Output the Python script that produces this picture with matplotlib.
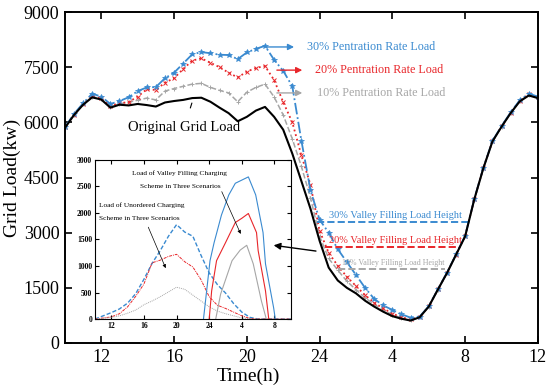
import numpy as np
import matplotlib
matplotlib.use('Agg')
import matplotlib.pyplot as plt

plt.rcParams['font.family'] = ['Liberation Serif', 'DejaVu Serif']

###### Data ######
hours = np.arange(10, 36.01, 0.5)

base_load = [5850, 6200, 6480, 6680, 6620, 6400, 6480, 6460, 6500, 6470,
             6430, 6540, 6580, 6610, 6660, 6670, 6560, 6400, 6250, 6030,
             6150, 6320, 6420, 6150, 5800, 5150, 4400, 3650, 2780, 2050,
             1700, 1500, 1350, 1150, 990, 850, 730, 660, 610, 700,
             990, 1450, 1900, 2400, 2900, 3900, 4750, 5480, 5880, 6250,
             6570, 6730, 6660]

load_30 = [5870, 6230, 6520, 6780, 6700, 6500, 6580, 6680, 6850, 6950,
           6960, 7200, 7350, 7600, 7850, 7910, 7880, 7840, 7830, 7720,
           7900, 8000, 8080, 7700, 7400, 6980, 5500, 4150, 3350, 3000,
           2550, 2200, 1850, 1500, 1200, 1020, 900, 780, 690, 720,
           1000, 1460, 1910, 2410, 2910, 3910, 4760, 5490, 5900, 6270,
           6600, 6780, 6700]

load_20 = [5860, 6210, 6500, 6720, 6650, 6450, 6520, 6550, 6700, 6900,
           6880, 7080, 7200, 7450, 7680, 7740, 7620, 7500, 7350, 7220,
           7380, 7480, 7530, 7150, 6550, 6000, 5100, 4300, 3050, 2450,
           2100, 1800, 1550, 1300, 1100, 940, 800, 700, 640, 710,
           995, 1455, 1905, 2405, 2905, 3905, 4755, 5485, 5890, 6260,
           6590, 6760, 6680]

load_10 = [5855, 6205, 6490, 6700, 6640, 6420, 6500, 6550, 6600, 6660,
           6610, 6850, 6920, 6980, 7040, 7060, 6950, 6870, 6800, 6560,
           6820, 6950, 7040, 6690, 6200, 5550, 4800, 3950, 2900, 2300,
           1980, 1680, 1450, 1230, 1050, 900, 770, 680, 620, 705,
           992, 1452, 1902, 2402, 2902, 3902, 4752, 5482, 5885, 6255,
           6580, 6745, 6670]

# valley filling heights
valley_30 = 3290
valley_20 = 2610
valley_10 = 2010

# inset: unordered charging load (hourly)
inset_hours = np.arange(10, 34.01, 1)
unord_30 = [0, 60, 120, 190, 300, 480, 750, 1050, 1290, 1560, 1780, 1640, 1560,
            1200, 870, 650, 490, 290, 130, 30, 0, 0, 0, 0, 0]
unord_20 = [0, 20, 40, 100, 230, 430, 660, 1060, 1110, 1180, 1220, 1080, 980,
            740, 420, 260, 200, 130, 60, 10, 0, 0, 0, 0, 0]
unord_10 = [0, 10, 30, 60, 110, 170, 270, 340, 420, 510, 600, 560, 450,
            340, 230, 150, 100, 60, 20, 5, 0, 0, 0, 0, 0]

# inset: valley filling charging load
vf30_h = [23.3, 24.1, 24.6, 25.0, 25.5, 26.4, 27.2, 28.0, 28.8, 29.7, 30.6, 30.9, 31.9, 32.1]
vf30 = [0, 1100, 1440, 1670, 1960, 2340, 2560, 2620, 2680, 2340, 1630, 1040, 210, 0]
vf20_h = [24.0, 24.3, 24.9, 26.0, 27.2, 28.0, 28.8, 29.8, 30.0, 30.9, 31.3]
vf20 = [0, 530, 1100, 1440, 1820, 1900, 1990, 1630, 1290, 530, 0]
vf10_h = [24.8, 25.4, 26.8, 27.8, 28.6, 29.4, 30.4, 31.0]
vf10 = [0, 470, 1100, 1300, 1390, 1040, 340, 0]

xticks = [12, 16, 20, 24, 28, 32, 36]
xticklabels = ['12', '16', '20', '24', '4', '8', '12']
inset_xticks = [12, 16, 20, 24, 28, 32]
inset_xticklabels = ['12', '16', '20', '24', '4', '8']

BLUE = '#3a8ad0'
RED = '#e8262a'
GRAY = '#a6a6a6'

###### Main plot ######
fig = plt.figure(figsize=(5.5, 3.88), dpi=100)
ax = fig.add_axes([0.118, 0.116, 0.860, 0.853])

ax.plot(hours, load_10, color=GRAY, ls='--', lw=1.1, marker='+', ms=3.2, mew=0.7)
ax.plot(hours, load_20, color=RED, ls=':', lw=1.3, marker='x', ms=3.2, mew=0.7)
ax.plot(hours, load_30, color=BLUE, ls='-.', lw=1.3, marker='*', ms=3.8, mew=0.5)
ax.plot(hours, base_load, color='black', lw=1.5, zorder=5)

ax.hlines(valley_30, 23.85, 32.25, colors=BLUE, linestyles='--', lw=1.4)
ax.hlines(valley_20, 24.3, 31.7, colors=RED, linestyles='--', lw=1.4)
ax.hlines(valley_10, 25.0, 30.9, colors=GRAY, linestyles='--', lw=1.4)

ax.text(28.15, 3480, '30% Valley Filling Load Height', color=BLUE, fontsize=7.5,
        ha='center', va='center')
ax.text(28.15, 2800, '20% Valley Filling Load Height', color=RED, fontsize=7.5,
        ha='center', va='center')
ax.text(28.05, 2175, '10% Valley Filling Load Height', color=GRAY, fontsize=5.8,
        ha='center', va='center')

arrow = dict(arrowstyle='-|>', lw=1.0, mutation_scale=9)
ax.annotate('', xy=(22.75, 8050), xytext=(20.9, 8050),
            arrowprops=dict(arrow, color=BLUE))
ax.text(23.3, 8050, '30% Pentration Rate Load', color=BLUE, fontsize=8.7, va='center')
ax.annotate('', xy=(23.2, 7420), xytext=(21.5, 7420),
            arrowprops=dict(arrow, color=RED))
ax.text(23.75, 7420, '20% Pentration Rate Load', color=RED, fontsize=8.7, va='center')
ax.annotate('', xy=(23.2, 6800), xytext=(21.5, 6800),
            arrowprops=dict(arrow, color=GRAY))
ax.text(23.85, 6800, '10% Pentration Rate Load', color=GRAY, fontsize=8.7, va='center')

ax.annotate('Original Grid Load', xy=(16.98, 6525), xytext=(16.55, 5850),
            fontsize=10.5, ha='center', va='center',
            arrowprops=dict(arrowstyle='-', color='black', lw=0.8,
                            shrinkA=8, shrinkB=0))

ax.set_xlim(10, 36)
ax.set_ylim(0, 9000)
ax.set_xticks(xticks)
ax.set_xticklabels(xticklabels)
ax.set_yticks(np.arange(0, 9001, 1500))
ax.tick_params(direction='in', top=True, right=True, length=5, width=1.2,
               labelsize=13, pad=4)
for s in ax.spines.values():
    s.set_linewidth(1.4)
ax.set_xlabel('Time(h)', fontsize=14, labelpad=0)
ax.xaxis.set_label_coords(0.387, -0.075)
ax.set_ylabel('Grid Load(kw)', fontsize=14, labelpad=2)

###### Inset ######
ins = fig.add_axes([0.1727, 0.1778, 0.356, 0.41])
ins.plot(inset_hours, unord_30, color=BLUE, ls=(0, (3, 1.5)), lw=1.0)
ins.plot(inset_hours, unord_20, color=RED, ls=(0, (3, 1, 1, 1)), lw=0.7)
ins.plot(inset_hours, unord_10, color=GRAY, ls=(0, (1, 1)), lw=0.7)
ins.plot(vf30_h, vf30, color=BLUE, lw=0.8)
ins.plot(vf20_h, vf20, color=RED, lw=0.8)
ins.plot(vf10_h, vf10, color=GRAY, lw=0.8)

ins.set_xlim(10, 34)
ins.set_ylim(0, 3000)
ins.set_xticks(inset_xticks)
ins.set_xticklabels(inset_xticklabels)
ins.set_yticks(np.arange(0, 3001, 500))
ins.tick_params(direction='in', top=True, right=True, length=3, width=0.8,
                labelsize=5.5, pad=2)
for lab in ins.get_xticklabels() + ins.get_yticklabels():
    lab.set_fontweight('bold')
for s in ins.spines.values():
    s.set_linewidth(0.8)

ins.text(20.4, 2750, 'Load of Valley Filling Charging', fontsize=5.3, ha='center', va='center')
ins.text(20.4, 2506, 'Scheme in Three Scenarios', fontsize=5.3, ha='center', va='center')
ins.annotate('', xy=(28.0, 1557), xytext=(25.4, 2450),
             arrowprops=dict(arrowstyle='-|>', color='black', lw=0.5,
                             mutation_scale=5))
ins.text(10.5, 2146, 'Load of Unordered Charging', fontsize=5.3, ha='left', va='center')
ins.text(10.5, 1899, 'Scheme in Three Scenarios', fontsize=5.3, ha='left', va='center')
ins.annotate('', xy=(18.8, 911), xytext=(16.4, 1780),
             arrowprops=dict(arrowstyle='-|>', color='black', lw=0.5,
                             mutation_scale=5))

# pointer from the valley to the inset
ins.annotate('', xy=(31.9, 1390), xytext=(23.8, 2500), xycoords='data',
             textcoords=ax.transData, annotation_clip=False,
             arrowprops=dict(arrowstyle='-|>', color='black', lw=1.0,
                             mutation_scale=10, shrinkA=0, shrinkB=0))

fig.savefig('out.png', dpi=100)
